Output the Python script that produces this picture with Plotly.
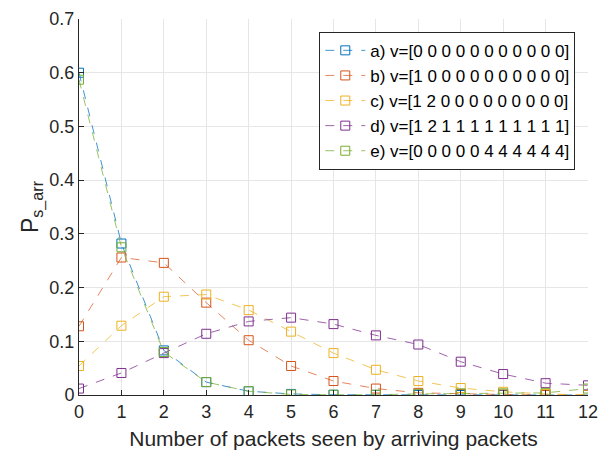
import plotly.graph_objects as go

x = list(range(13))
names = ["a) v=[0 0 0 0 0 0 0 0 0 0 0]",
         "b) v=[1 0 0 0 0 0 0 0 0 0 0]",
         "c) v=[1 2 0 0 0 0 0 0 0 0 0]",
         "d) v=[1 2 1 1 1 1 1 1 1 1 1]",
         "e) v=[0 0 0 0 0 4 4 4 4 4 4]"]
a = [0.600, 0.282, 0.083, 0.024, 0.007, 0.002, 0.0005, 0.0002, 0.0001, 0.0, 0.0, 0.0, 0.0]
b = [0.128, 0.256, 0.246, 0.172, 0.102, 0.054, 0.026, 0.012, 0.004, 0.002, 0.001, 0.0, 0.0]
c = [0.054, 0.129, 0.183, 0.187, 0.158, 0.118, 0.078, 0.047, 0.026, 0.013, 0.006, 0.002, 0.0]
d = [0.012, 0.041, 0.078, 0.114, 0.137, 0.144, 0.132, 0.111, 0.094, 0.062, 0.039, 0.022, 0.018]
e = [0.587, 0.275, 0.080, 0.024, 0.007, 0.001, 0.0005, 0.0005, 0.002, 0.003, 0.003, 0.004, 0.012]
series = [a, b, c, d, e]
colors = ["#0072BD", "#D95319", "#EDB120", "#7E2F8E", "#77AC30"]
line_colors = ["rgba(0,114,189,0.75)", "rgba(217,83,25,0.7)", "rgba(237,177,32,0.75)",
               "rgba(126,47,142,0.75)", "rgba(119,172,48,0.75)"]

fig = go.Figure()
for nm, ys, col, lc in zip(names, series, colors, line_colors):
    fig.add_trace(go.Scatter(
        x=x, y=ys, name=nm, mode="lines+markers",
        line=dict(color=lc, width=1, dash="dash"),
        marker=dict(symbol="square-open", size=9, color=col, line=dict(width=1, color=col)),
    ))

font = "Liberation Sans, Arial, sans-serif"
fig.update_layout(
    width=607, height=457,
    margin=dict(l=79, r=9, t=16, b=62),
    paper_bgcolor="white", plot_bgcolor="white",
    font=dict(family=font, size=18, color="#262626"),
    showlegend=True,
    legend=dict(x=0.975, y=0.966, xanchor="right", yanchor="top",
                bgcolor="white", bordercolor="#262626", borderwidth=1,
                font=dict(size=17, color="#000000"), tracegroupgap=0,
                itemwidth=40),
    xaxis=dict(range=[0, 12], tickmode="array", tickvals=x, ticktext=[str(v) for v in x],
               showgrid=True, gridcolor="#e6e6e6", gridwidth=1,
               showline=True, linecolor="#262626", linewidth=1,
               ticks="inside", ticklen=5, tickcolor="#262626",
               zeroline=False, mirror=False, ticklabeloverflow="allow",
               title=dict(text="Number of packets seen by arriving packets", font=dict(size=21), standoff=10),
               tickfont=dict(size=18)),
    yaxis=dict(range=[0, 0.7], tickmode="array",
               tickvals=[0, 0.1, 0.2, 0.3, 0.4, 0.5, 0.6, 0.7],
               ticktext=["0", "0.1", "0.2", "0.3", "0.4", "0.5", "0.6", "0.7"],
               showgrid=True, gridcolor="#e6e6e6", gridwidth=1,
               showline=True, linecolor="#262626", linewidth=1,
               ticks="inside", ticklen=5, tickcolor="#262626",
               zeroline=False, mirror=False,
               title=dict(text="P<sub>s_arr</sub>", font=dict(size=23), standoff=4),
               tickfont=dict(size=18)),
)
fig.write_html("out.html")
